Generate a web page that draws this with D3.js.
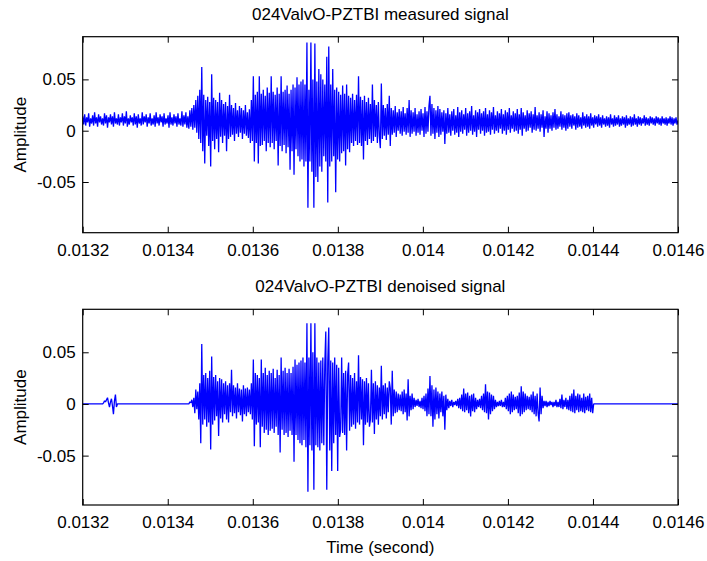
<!DOCTYPE html>
<html>
<head>
<meta charset="utf-8">
<script src="https://cdn.jsdelivr.net/npm/d3@7"></script>
<style>
  html, body { margin: 0; padding: 0; background: #fff; }
  svg { display: block; }
  text { font-family: "Liberation Sans", Arial, sans-serif; fill: #000; }
</style>
</head>
<body>
<svg id="chart" width="707" height="561"></svg>
<script>
// Panel titles and axis labels
const titles = ["024ValvO-PZTBI measured signal", "024ValvO-PZTBI denoised signal"];
const xLabel = "Time (second)";
const yLabel = "Amplitude";

// Tick values
const xTicks = [0.0132, 0.0134, 0.0136, 0.0138, 0.014, 0.0142, 0.0144, 0.0146];
const xTickLabels = ["0.0132", "0.0134", "0.0136", "0.0138", "0.014", "0.0142", "0.0144", "0.0146"];
const yTicks = [-0.05, 0, 0.05];
const yTickLabels = ["-0.05", "0", "0.05"];

// Record window: samples are evenly spaced from tStart to tEnd
const tStart = 0.0132;
const tEnd = 0.0146;

// Measured signal samples (units of 1e-3)
const measured = [
  14, 6, 16, 5, 13, 8, 17, 4, 12, 7,
  15, 5, 18, 7, 13, 4, 16, 8, 14, 6,
  12, 5, 17, 7, 15, 3, 13, 8, 16, 6,
  14, 4, 18, 7, 12, 6, 16, 5, 13, 8,
  17, 5, 14, 7, 19, 4, 12, 6, 15, 8,
  13, 5, 17, 6, 14, 3, 16, 7, 12, 5,
  18, 6, 14, 8, 16, 4, 13, 7, 17, 5,
  12, 6, 15, 4, 18, 7, 13, 5, 16, 8,
  14, 4, 17, 6, 12, 7, 15, 3, 18, 6,
  13, 5, 16, 7, 14, 4, 17, 6, 12, 5,
  19, 4, 15, 6, 18, 3, 14, 2, 20, 4,
  22, 1, 25, 3, 30, -2, 34, -8, 40, -12,
  62, -20, 35, -32, 30, -5, 33, -15, 28, -35,
  55, -10, 32, -18, 30, -8, 28, -21, 37, -6,
  30, -12, 26, -5, 28, -20, 24, -8, 35, -6,
  25, -4, 22, -10, 27, -3, 20, -6, 24, -2,
  22, -8, 20, -3, 25, -5, 18, -7, 21, -12,
  30, -10, 53, -30, 35, -12, 38, -32, 53, -15,
  36, -14, 40, -10, 34, -20, 42, -12, 37, -16,
  53, -12, 38, -18, 35, -10, 42, -34, 36, -15,
  53, -20, 38, -14, 40, -22, 44, -16, 36, -38,
  40, -20, 45, -43, 42, -18, 52, -25, 45, -30,
  48, -28, 50, -35, 45, -30, 86, -75, 40, -30,
  86, -40, 50, -75, 85, -45, 48, -50, 60, -35,
  55, -40, 50, -25, 45, -30, 72, -70, 82, -35,
  45, -30, 60, -25, 40, -60, 42, -28, 38, -30,
  35, -22, 44, -20, 36, -34, 45, -18, 34, -21,
  32, -12, 36, -15, 30, -10, 35, -14, 53, -12,
  33, -15, 30, -28, 34, -10, 28, -14, 32, -8,
  26, -12, 45, -10, 30, -6, 25, -12, 28, -5,
  -17, 46, -8, 25, -5, 22, -9, 26, -4, 34,
  -15, 22, -4, 20, -2, 24, -6, 18, 0, 21,
  -3, 19, -5, 23, -1, 17, -4, 22, -2, 30,
  -6, 20, -3, 18, -1, 22, -5, 16, -2, 19,
  -4, 21, 0, 17, -6, 23, -3, 19, -1, 24,
  34, -5, 26, -3, 22, -8, 20, -2, 24, -6,
  21, -4, 18, -1, 20, -13, 17, -3, 22, -2,
  16, -5, 19, 0, 21, -4, 15, -2, 23, -6,
  18, -1, 20, -3, 16, 1, 22, -5, 17, -2,
  19, 0, 24, -4, 15, -1, 20, -6, 18, 1,
  21, -3, 17, 0, 19, -5, 22, -2, 16, -1,
  20, -4, 18, 1, 23, -3, 15, 0, 19, -2,
  17, 2, 21, -3, 16, 0, 20, -4, 18, 1,
  22, -2, 15, 2, 19, -1, 17, 0, 21, -3,
  16, 1, 22, -5, 18, 2, 15, -1, 20, 0,
  17, 3, 19, -2, 16, 1, 23, 0, 15, 2,
  18, -1, 16, 3, 20, -6, 14, 2, 19, -2,
  17, 2, 15, 0, 18, 3, 21, 1, 16, 2,
  14, 4, 19, 1, 16, 3, 15, 0, 17, 2,
  18, 4, 15, 2, 16, 5, 14, 1, 17, 3,
  15, 4, 13, 2, 18, 5, 14, 3, 16, 4,
  14, 2, 17, 5, 13, 3, 15, 6, 14, 4,
  16, 5, 13, 3, 15, 6, 12, 4, 14, 5,
  13, 3, 16, 6, 12, 4, 15, 5, 13, 6,
  15, 4, 12, 5, 14, 6, 13, 3, 15, 5,
  12, 6, 14, 4, 13, 5, 16, 6, 12, 4,
  14, 6, 13, 5, 12, 7, 15, 5, 13, 6,
  12, 5, 14, 7, 13, 6, 12, 5, 14, 7,
  13, 6, 12, 5, 14, 7, 12, 6, 13, 5,
  12, 7, 14, 6, 13, 5, 12, 7, 13, 6,
  10
];

// Denoised signal samples (units of 1e-3)
const denoised = [
  0, 0, 0, 0, 0, 0, 0, 0, 0, 0,
  0, 0, 0, 0, 0, 0, 0, 0, 0, 0,
  0, 1, 3, 2, 4, 6, 1, -3, 2, 5,
  -2, -10, 3, 9, -3, 0, 0, 0, 0, 0,
  0, 0, 0, 0, 0, 0, 0, 0, 0, 0,
  0, 0, 0, 0, 0, 0, 0, 0, 0, 0,
  0, 0, 0, 0, 0, 0, 0, 0, 0, 0,
  0, 0, 0, 0, 0, 0, 0, 0, 0, 0,
  0, 0, 0, 0, 0, 0, 0, 0, 0, 0,
  0, 0, 0, 0, 0, 0, 0, 0, 0, 0,
  0, 0, 0, 0, 0, 0, 0, 0, 2, 1,
  4, -3, 6, -9, 14, -5, 12, -15, 20, -38,
  58, -20, 28, -15, 30, -22, 25, -18, 32, -44,
  46, -20, 26, -16, 28, -12, 22, -31, 25, -14,
  24, -18, 20, -10, 22, -15, 18, -18, 20, -8,
  33, -12, 18, -9, 16, -14, 20, -8, 15, -11,
  14, -17, 18, -10, 15, -12, 16, -8, 14, -10,
  20, -15, 43, -41, 30, -20, 28, -18, 25, -42,
  43, -22, 30, -28, 35, -25, 28, -30, 32, -26,
  30, -24, 34, -28, 25, -22, 33, -30, 28, -47,
  45, -25, 32, -30, 35, -28, 30, -32, 34, -26,
  30, -30, 36, -56, 43, -30, 38, -35, 40, -38,
  42, -40, 45, -35, 40, -42, 78, -85, 45, -40,
  78, -45, 50, -83, 78, -40, 45, -42, 40, -45,
  42, -38, 45, -40, 38, 70, -83, 40, 74, -45,
  42, -65, 40, -38, 45, -30, 38, -65, 35, -32,
  -25, 45, -28, 30, -30, 32, -45, 28, 40, -26,
  28, -22, 25, -20, 30, -24, 22, -18, 47, -20,
  26, -15, 24, -40, 22, -20, 25, -18, 20, -22,
  -15, 33, -18, 20, -29, 22, -15, 18, -20, 16,
  -12, 37, -15, 18, -10, 20, -14, 16, -8, 22,
  15, -20, 32, -12, 14, -9, 12, -8, 10, -6,
  9, -7, 12, -10, 14, -8, 10, -16, 24, -12,
  8, -6, 10, -5, 6, -3, 4, -2, 5, -3,
  3, -4, 6, -5, 8, -7, 10, -12, 15, -10,
  27, -12, 18, -22, 14, -15, 16, -10, 12, -14,
  10, -8, 12, -12, 8, -25, 9, -6, 5, -4,
  3, -2, 4, -3, 2, -1, 3, -2, 5, -4,
  6, -5, 9, -7, 15, -8, 10, -6, 11, -9,
  8, -12, 9, -7, 10, -8, 6, -5, 4, -3,
  5, -4, 8, -6, 10, -8, 19, -9, 12, -15,
  11, -10, 9, -7, 8, -5, 4, -3, 2, -2,
  3, -2, 4, -3, 2, -3, 6, -5, 8, -7,
  10, -10, 12, -8, 9, -6, 7, -5, 8, -9,
  11, -12, 17, -10, 12, -8, 10, -6, 8, -5,
  7, -6, 9, -8, 12, -10, 8, -12, 10, -9,
  -17, 16, -10, 8, -4, 3, -2, 3, -3, 2,
  -2, 3, -1, 2, -3, 2, -2, 4, -3, 2,
  -3, 5, -4, 9, -5, 4, -3, 6, -5, 4,
  -6, 8, -7, 10, -8, 14, -9, 8, -6, 10,
  -8, 9, -7, 6, -8, 10, -9, 7, -6, 8,
  -7, 10, -8, 6, -9, 0, 0, 0, 0, 0,
  0, 0, 0, 0, 0, 0, 0, 0, 0, 0,
  0, 0, 0, 0, 0, 0, 0, 0, 0, 0,
  0, 0, 0, 0, 0, 0, 0, 0, 0, 0,
  0, 0, 0, 0, 0, 0, 0, 0, 0, 0,
  0, 0, 0, 0, 0, 0, 0, 0, 0, 0,
  0, 0, 0, 0, 0, 0, 0, 0, 0, 0,
  0, 0, 0, 0, 0, 0, 0, 0, 0, 0,
  0, 0, 0, 0, 0, 0, 0, 0, 0, 0,
  0
];

const svg = d3.select("#chart");
const W = 707, H = 561;
svg.append("rect").attr("width", W).attr("height", H).attr("fill", "#fff");

const left = 82.7, right = 678;
const panels = [
  { title: titles[0], data: measured, top: 36.7, bottom: 232.7, yDomain: [-0.0994, 0.0916] },
  { title: titles[1], data: denoised, top: 309.3, bottom: 505, yDomain: [-0.0978, 0.0916] }
];

const x = d3.scaleLinear().domain([tStart, tEnd]).range([left, right]);
const FS = 17;
const tickLen = 6;

panels.forEach((p, k) => {
  const y = d3.scaleLinear().domain(p.yDomain).range([p.bottom, p.top]);
  const g = svg.append("g");

  // clip to the axes box
  const clipId = "clip" + k;
  svg.append("clipPath").attr("id", clipId)
    .append("rect").attr("x", left).attr("y", p.top)
    .attr("width", right - left).attr("height", p.bottom - p.top);

  const n = p.data.length;
  const pts = p.data.map((v, i) => [tStart + (tEnd - tStart) * i / (n - 1), v * 1e-3]);
  const line = d3.line().x(d => x(d[0])).y(d => y(d[1]));
  g.append("path")
    .attr("clip-path", `url(#${clipId})`)
    .attr("d", line(pts))
    .attr("fill", "none")
    .attr("stroke", "#0000ff")
    .attr("stroke-width", 1.3)
    .attr("stroke-linejoin", "bevel");

  // Axes: ticks pointing inward on all four sides
  const axB = d3.axisBottom(x).tickValues(xTicks).tickFormat((d, i) => xTickLabels[i]).tickSizeInner(-tickLen).tickSizeOuter(0).tickPadding(12);
  const axT = d3.axisTop(x).tickValues(xTicks).tickFormat("").tickSizeInner(-tickLen).tickSizeOuter(0);
  const axL = d3.axisLeft(y).tickValues(yTicks).tickFormat((d, i) => yTickLabels[i]).tickSizeInner(-tickLen).tickSizeOuter(0).tickPadding(7);
  const axR = d3.axisRight(y).tickValues(yTicks).tickFormat("").tickSizeInner(-tickLen).tickSizeOuter(0);

  const gb = g.append("g").attr("transform", `translate(0,${p.bottom})`).call(axB);
  const gt = g.append("g").attr("transform", `translate(0,${p.top})`).call(axT);
  const gl = g.append("g").attr("transform", `translate(${left},0)`).call(axL);
  const gr = g.append("g").attr("transform", `translate(${right},0)`).call(axR);

  [gb, gt, gl, gr].forEach(a => {
    a.select(".domain").remove();
    a.selectAll(".tick line").attr("stroke", "#000").attr("stroke-width", 1);
    a.selectAll(".tick text").attr("font-size", FS).attr("font-family", "Liberation Sans, Arial, sans-serif").attr("fill", "#000");
  });
  gb.selectAll(".tick text").attr("dy", null).attr("y", 23).attr("dominant-baseline", "auto");

  // box
  g.append("rect")
    .attr("x", left).attr("y", p.top)
    .attr("width", right - left).attr("height", p.bottom - p.top)
    .attr("fill", "none").attr("stroke", "#000").attr("stroke-width", 1.2);

  // title
  g.append("text")
    .attr("x", (left + right) / 2).attr("y", p.top - 17)
    .attr("text-anchor", "middle").attr("font-size", FS)
    .text(p.title);

  // y label
  g.append("text")
    .attr("transform", `translate(26,${(p.top + p.bottom) / 2}) rotate(-90)`)
    .attr("text-anchor", "middle").attr("font-size", FS)
    .text(yLabel);
});

svg.append("text")
  .attr("x", (left + right) / 2).attr("y", 553)
  .attr("text-anchor", "middle").attr("font-size", FS)
  .text(xLabel);
</script>
</body>
</html>
